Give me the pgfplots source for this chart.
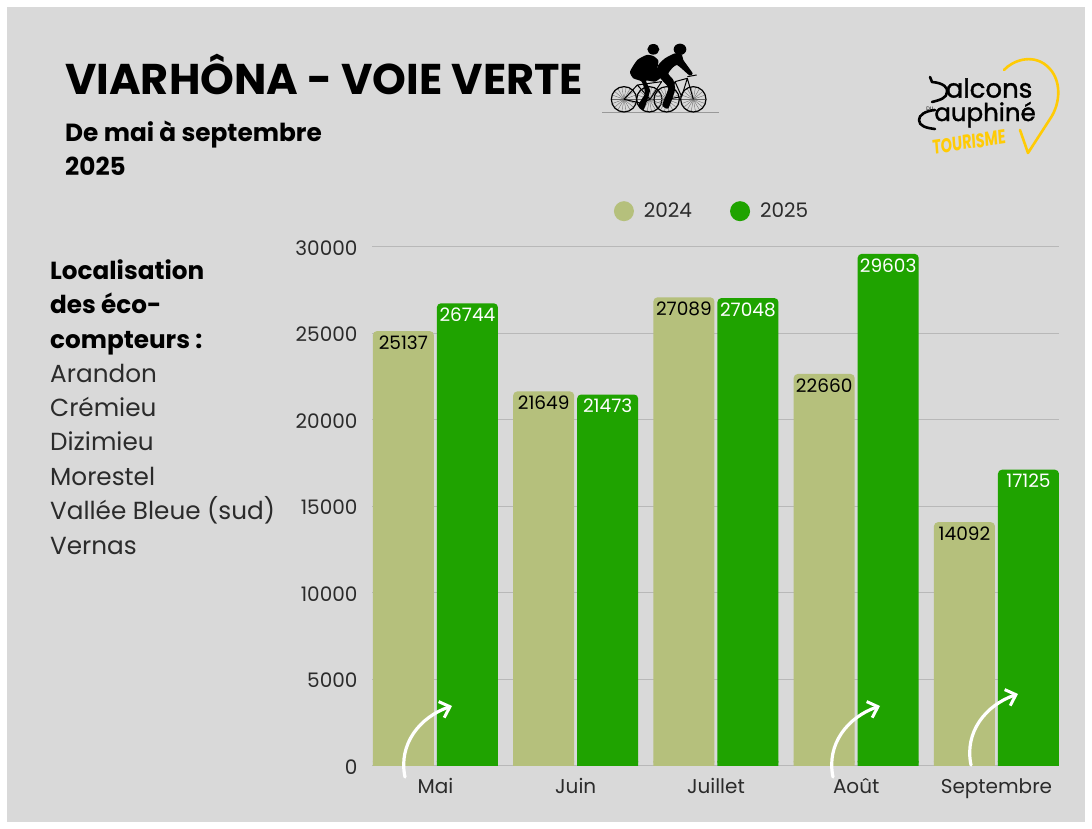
\documentclass[border=0pt]{standalone}
\usepackage{fontspec}
\setmainfont{Poppins}
\newfontfamily\logofont[FakeBold=1.4]{Poppins}
\usepackage{pgfplots}
\pgfplotsset{compat=1.18}
\usetikzlibrary{arrows.meta}
\definecolor{fond}{HTML}{D9D9D9}
\definecolor{c2024}{HTML}{B5C07C}
\definecolor{c2025}{HTML}{1FA300}
\definecolor{grille}{HTML}{B8B8B8}
\definecolor{jaune}{HTML}{FFCB05}
\definecolor{encre}{HTML}{2B2B2B}
\newcommand{\fs}[1]{\fontsize{#1}{#1}\selectfont}
\pgfplotstableread{
x a b
0 25137 26744
1 21649 21473
2 27089 27048
3 22660 29603
4 14092 17125
}\viadata
\begin{document}
\begin{tikzpicture}[x=1pt,y=1pt]
% fond
\fill[white] (0,0) rectangle (1092,829);
\fill[fond] (7,7) rectangle (1085,822);

\begin{axis}[
  name=ax, at={(372pt,63pt)}, anchor=south west,
  scale only axis, width=687pt, height=519pt,
  ybar, bar width=61pt,
  xmin=-0.452, xmax=4.446, ymin=0, ymax=30000,
  xtick={0,1,2,3,4}, xticklabels={Mai,Juin,Juillet,Août,Septembre},
  ytick={0,5000,...,30000},
  scaled y ticks=false,
  ymajorgrids, grid style={grille,line width=1pt},
  axis line style={draw=none},
  major tick length=0pt,
  tick label style={font=\fs{20},text=encre},
  yticklabel style={xshift=-11pt,yshift=-0.8pt},
  xticklabel style={yshift=-9pt},
  /pgf/number format/1000 sep={},
  /pgf/number format/assume math mode=true,
  legend style={at={(0.495,1.069)},anchor=center,draw=none,fill=none,
    font=\fs{20},text=encre,legend columns=2,
    /tikz/every odd column/.append style={column sep=8pt},
    /tikz/every even column/.append style={column sep=36pt}},
  legend cell align=left,
  every node near coord/.append style={font=\fs{18.5},anchor=north,yshift=-1pt,
    /pgf/number format/1000 sep={},/pgf/number format/assume math mode=true},
  clip=true,
]
\addplot[fill=c2024,draw=none,bar shift=-32pt,rounded corners=4pt,
  nodes near coords,every node near coord/.append style={text=black},
  legend image code/.code={\fill[c2024] (0pt,0pt) circle (10pt);}]
  table[x=x,y=a] {\viadata};
\addplot[fill=c2025,draw=none,bar shift=32pt,rounded corners=4pt,
  nodes near coords,every node near coord/.append style={text=white},
  legend image code/.code={\fill[c2025] (0pt,0pt) circle (10pt);}]
  table[x=x,y=b] {\viadata};
% pied carre des barres
\addplot[forget plot,fill=c2024,draw=none,bar shift=-32pt,y filter/.expression={min(y,300)}]
  table[x=x,y=a] {\viadata};
\addplot[forget plot,fill=c2025,draw=none,bar shift=32pt,y filter/.expression={min(y,300)}]
  table[x=x,y=b] {\viadata};
\legend{2024,2025}
\end{axis}

% titres
\node[anchor=base west,inner sep=0pt] at (65,734) {\fs{43}\bfseries VIARHÔNA - VOIE VERTE};
\node[anchor=base west,inner sep=0pt] at (65,687.5) {\fs{24.8}\bfseries De mai à septembre};
\node[anchor=base west,inner sep=0pt] at (65,653) {\fs{24.8}\bfseries 2025};

% eco-compteurs
\foreach \t/\y in {Localisation/549.5,des éco-/515.5,compteurs :/480.5}
  \node[anchor=base west,inner sep=0pt] at (50,\y) {\fs{24.7}\bfseries \t};
\foreach \t/\y in {Arandon/446.5,Crémieu/412.5,Dizimieu/378.5,Morestel/343.5,Vallée Bleue (sud)/309.5,Vernas/274.5}
  \node[anchor=base west,inner sep=0pt,text=encre] at (50,\y) {\fs{24.7}\t};

% fleches
\foreach \dx/\dy in {0/0,428/0,566/-12}{
  \draw[white,line width=3.2pt,line cap=round,-{Straight Barb[length=9pt,width=17pt,line width=3pt]}]
    ({405+\dx},{52-\dy}) .. controls ({398+\dx},{85-\dy}) and ({420+\dx},{112-\dy}) .. ({452+\dx},{123-\dy});
}

% cyclistes (coordonnees lues sur un agrandissement x3)
\begin{scope}[shift={(600,789)},x=0.3333pt,y=-0.3333pt]
  \draw[gray!80,line width=0.8pt] (6,218) -- (356,218);
  \foreach \cx in {72,148,200,280}{
    \foreach \a in {0,20,...,160}
      \draw[black!60,line width=0.35pt] ({\cx+36*cos(\a)},{178+36*sin(\a)}) -- ({\cx-36*cos(\a)},{178-36*sin(\a)});
    \draw[black,line width=1.2pt] (\cx,178) circle (38);
  }
  \draw[black,line width=1pt,line join=round] (72,178) -- (112,135) -- (150,178) -- (125,190) -- (72,178)
    (112,135) -- (185,125) -- (150,178);
  \draw[black,line width=1pt,line join=round] (200,178) -- (225,125) -- (262,115) -- (280,178)
    (225,125) -- (245,170) -- (262,115) (200,178) -- (245,170) (262,110) -- (290,105);
  \fill[black] (160,28) ellipse (18 and 16);
  \fill[black] (240,28) ellipse (19 and 17);
  \fill[black] plot[smooth cycle,tension=0.35] coordinates {
    (140,45) (112,60) (90,95) (100,115) (125,125) (135,160) (115,195) (130,210)
    (142,180) (150,150) (138,122) (165,125) (185,110) (172,90) (175,62) (160,48)};
  \fill[black] plot[smooth cycle,tension=0.35] coordinates {
    (225,40) (195,55) (175,75) (170,100) (190,125) (205,145) (187,195) (205,205)
    (225,150) (220,120) (205,100) (230,75) (268,106) (278,100) (250,60) (246,45)};
\end{scope}

% logo
\begin{scope}[rotate around={5:(985,720)}]
  \node[inner sep=0pt,anchor=base,text=black] at (990,731) {\logofont\fs{26}alcons};
  \node[inner sep=0pt,anchor=base,text=black] at (984,708) {\logofont\fs{24.5}auphiné};
  \node[inner sep=0pt,text=black] at (930,725) {\fs{5}DU};
\end{scope}
\node[inner sep=0pt,xscale=0.72,rotate=6,text=jaune] at (969,687) {\fs{20}\bfseries TOURISME};
\draw[black,line width=2.6pt,line cap=round,line join=round]
  (930,752) -- (932,747) .. controls (944,746) and (948,741) .. (947,737)
  .. controls (947,731) and (940,729) .. (932,727);
\draw[black,line width=2.6pt,line cap=round,line join=round]
  (935,719) .. controls (925,718) and (919,714) .. (919,709)
  .. controls (919,703) and (926,701) .. (935,700);
\draw[jaune,line width=2.6pt,line cap=round,line join=round]
  (1004,759) .. controls (1012,768) and (1032,776) .. (1047,763)
  .. controls (1062,750) and (1061,726) .. (1050,710)
  -- (1028,676) -- (1020,699);
\end{tikzpicture}
\end{document}
